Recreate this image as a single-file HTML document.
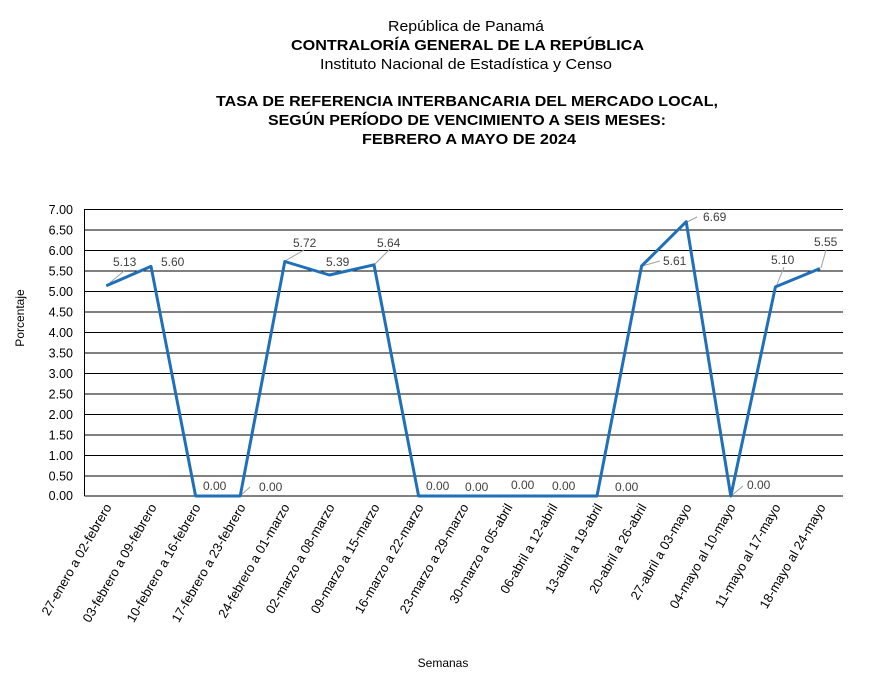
<!DOCTYPE html>
<html><head><meta charset="utf-8"><style>
html,body{margin:0;padding:0;background:#fff;}
svg text{font-family:"Liberation Sans",Arial,sans-serif;}
</style></head><body>
<svg width="878" height="679" xmlns="http://www.w3.org/2000/svg">
<rect width="878" height="679" fill="#fff"/>
<g fill="#000">
<text x="388" y="31" font-size="15" textLength="156" lengthAdjust="spacingAndGlyphs">República de Panamá</text>
<text x="291" y="50" font-size="15" font-weight="bold" textLength="353" lengthAdjust="spacingAndGlyphs">CONTRALORÍA GENERAL DE LA REPÚBLICA</text>
<text x="320" y="69" font-size="15" textLength="292" lengthAdjust="spacingAndGlyphs">Instituto Nacional de Estadística y Censo</text>
<text x="216" y="106" font-size="15" font-weight="bold" textLength="502" lengthAdjust="spacingAndGlyphs">TASA DE REFERENCIA INTERBANCARIA DEL MERCADO LOCAL,</text>
<text x="268" y="125" font-size="15" font-weight="bold" textLength="398" lengthAdjust="spacingAndGlyphs">SEGÚN PERÍODO DE VENCIMIENTO A SEIS MESES:</text>
<text x="362" y="144" font-size="15" font-weight="bold" textLength="214" lengthAdjust="spacingAndGlyphs">FEBRERO A MAYO DE 2024</text>
</g>
<g stroke="#000" stroke-width="1">
<line x1="84.5" y1="209" x2="84.5" y2="496"/>
<line x1="84.5" y1="209.5" x2="843" y2="209.5"/>
<line x1="84.5" y1="230" x2="843" y2="230"/>
<line x1="84.5" y1="250.5" x2="843" y2="250.5"/>
<line x1="84.5" y1="271" x2="843" y2="271"/>
<line x1="84.5" y1="291.5" x2="843" y2="291.5"/>
<line x1="84.5" y1="312" x2="843" y2="312"/>
<line x1="84.5" y1="332.5" x2="843" y2="332.5"/>
<line x1="84.5" y1="353" x2="843" y2="353"/>
<line x1="84.5" y1="373.5" x2="843" y2="373.5"/>
<line x1="84.5" y1="394" x2="843" y2="394"/>
<line x1="84.5" y1="414.5" x2="843" y2="414.5"/>
<line x1="84.5" y1="435" x2="843" y2="435"/>
<line x1="84.5" y1="455.5" x2="843" y2="455.5"/>
<line x1="84.5" y1="476" x2="843" y2="476"/>
<line x1="84.5" y1="496" x2="843" y2="496"/>
</g>
<g font-size="12.5" text-anchor="end" fill="#000">
<text x="73" y="214">7.00</text><text x="73" y="234.5">6.50</text><text x="73" y="255">6.00</text>
<text x="73" y="275.5">5.50</text><text x="73" y="296">5.00</text><text x="73" y="316.5">4.50</text>
<text x="73" y="337">4.00</text><text x="73" y="357.5">3.50</text><text x="73" y="378">3.00</text>
<text x="73" y="398.5">2.50</text><text x="73" y="419">2.00</text><text x="73" y="439.5">1.50</text>
<text x="73" y="460">1.00</text><text x="73" y="480.5">0.50</text><text x="73" y="500">0.00</text>
</g>
<text transform="translate(24,318) rotate(-90)" font-size="12" text-anchor="middle">Porcentaje</text>
<text x="443" y="667" font-size="12" text-anchor="middle">Semanas</text>
<g stroke="#a0a0a0" stroke-width="1" fill="none">
<line x1="106" y1="286" x2="124" y2="271"/>
<line x1="240" y1="496" x2="250" y2="487"/>
<line x1="285" y1="261" x2="304" y2="250"/>
<line x1="374" y1="265" x2="390" y2="249"/>
<line x1="642" y1="266" x2="660" y2="261"/>
<line x1="687" y1="222" x2="697" y2="217"/>
<line x1="731" y1="496" x2="743" y2="486"/>
<line x1="776" y1="287" x2="784" y2="267"/>
<line x1="821" y1="268" x2="826" y2="250"/>
</g>
<polyline fill="none" stroke="#1f70b8" stroke-width="3" stroke-linejoin="round"
points="106.3,285.7 151,266.4 195.6,496 240.2,496 284.8,261.5 329.4,275 374,264.8 418.6,496 463.2,496 507.8,496 552.4,496 597,496 641.6,266 686.2,221.7 730.8,496 775.4,286.9 820,268.5"/>
<g font-size="12" fill="#404040">
<text x="113" y="266">5.13</text>
<text x="161" y="266">5.60</text>
<text x="203" y="490">0.00</text>
<text x="259" y="491">0.00</text>
<text x="293" y="247">5.72</text>
<text x="326" y="266">5.39</text>
<text x="377" y="247">5.64</text>
<text x="426" y="490">0.00</text>
<text x="465" y="491">0.00</text>
<text x="511" y="489">0.00</text>
<text x="552" y="490">0.00</text>
<text x="615" y="491">0.00</text>
<text x="663" y="265">5.61</text>
<text x="703" y="221">6.69</text>
<text x="747" y="489">0.00</text>
<text x="771" y="264">5.10</text>
<text x="814" y="246">5.55</text>
</g>
<g font-size="13" text-anchor="end" fill="#000">
<text transform="translate(112,507) rotate(-60)">27-enero a 02-febrero</text>
<text transform="translate(157,507) rotate(-60)">03-febrero a 09-febrero</text>
<text transform="translate(201,507) rotate(-60)">10-febrero a 16-febrero</text>
<text transform="translate(246,507) rotate(-60)">17-febrero a 23-febrero</text>
<text transform="translate(290,507) rotate(-60)">24-febrero a 01-marzo</text>
<text transform="translate(335,507) rotate(-60)">02-marzo a 08-marzo</text>
<text transform="translate(380,507) rotate(-60)">09-marzo a 15-marzo</text>
<text transform="translate(424,507) rotate(-60)">16-marzo a 22-marzo</text>
<text transform="translate(469,507) rotate(-60)">23-marzo a 29-marzo</text>
<text transform="translate(513,507) rotate(-60)">30-marzo a 05-abril</text>
<text transform="translate(558,507) rotate(-60)">06-abril a 12-abril</text>
<text transform="translate(603,507) rotate(-60)">13-abril a 19-abril</text>
<text transform="translate(647,507) rotate(-60)">20-abril a 26-abril</text>
<text transform="translate(692,507) rotate(-60)">27-abril a 03-mayo</text>
<text transform="translate(736,507) rotate(-60)">04-mayo al 10-mayo</text>
<text transform="translate(781,507) rotate(-60)">11-mayo al 17-mayo</text>
<text transform="translate(826,507) rotate(-60)">18-mayo al 24-mayo</text>
</g>
</svg>
</body></html>
